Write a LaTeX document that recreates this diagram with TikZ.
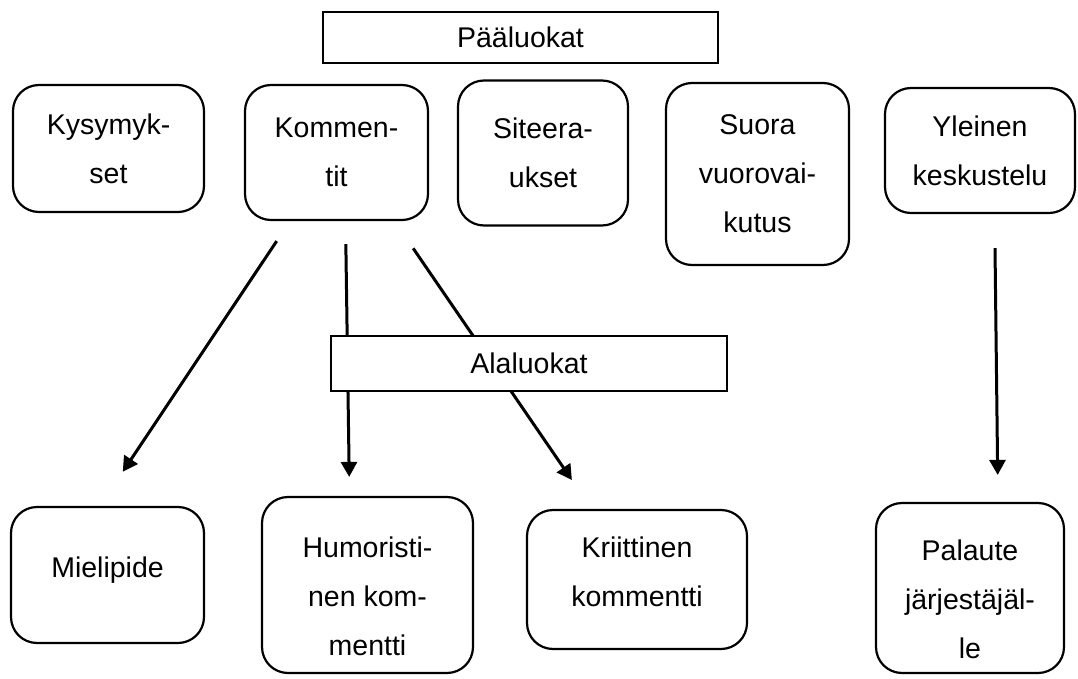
\documentclass[tikz,border=0pt]{standalone}
\usepackage{fontspec}
\setmainfont{Liberation Sans}
\usetikzlibrary{arrows.meta}

\begin{document}
\begin{tikzpicture}[x=1pt,y=-1pt,font=\fontsize{28.5}{49}\selectfont,
  catbox/.style={draw,line width=2.2pt,rounded corners=26pt,align=center,inner sep=0pt},
  headbox/.style={draw,line width=2.2pt,fill=white,inner sep=0pt},
  hightext/.style={text height=10pt},
  lowtext/.style={text height=142pt},
  midtext/.style={text height=55pt},
  catarrow/.style={-{Triangle[length=15pt,width=16pt]},line width=3pt}]
\useasboundingbox (0,0) rectangle (1078,679);
\node[headbox,minimum width=395pt,minimum height=51pt] (paa) at (520.5,37.5) {Pääluokat};
% main categories
\foreach \n/\x/\y/\w/\h/\t in {kysym/108.5/148.5/191/127/{Kysymyk-\\set},
    komm/336.5/152.5/183/135/{Kommen-\\tit},
    sitee/543/153/170/145/{Siteera-\\ukset},
    suora/757.5/174/183/182/{Suora\\vuorovai-\\kutus},
    yleinen/980/150.5/190/125/{Yleinen\\keskustelu}}
  \node[catbox,minimum width=\w pt,minimum height=\h pt] (\n) at (\x,\y) {\t};
% sub categories
\foreach \n/\x/\y/\w/\h/\o/\t in {mieli/107.5/575/193/136/hightext/{Mielipide},
    humor/367.5/585/211/176/lowtext/{Humoristi-\\nen kom-\\mentti},
    palaute/970/588/188/170/lowtext/{Palaute\\järjestäjäl-\\le},
    kriit/637/579.5/220/139/midtext/{Kriittinen\\kommentti}}
  \node[catbox,minimum width=\w pt,minimum height=\h pt,\o] (\n) at (\x,\y) {\t};
\draw[catarrow,shorten <=24pt,shorten >=41pt] ([xshift=-46.5pt]komm.south) -- ([xshift=-7.5pt]mieli.north);
\draw[catarrow,shorten <=23pt,shorten >=19pt] ([xshift=9pt]komm.south) -- ([xshift=-18pt]humor.north);
\draw[catarrow,shorten <=33pt,shorten >=35pt] ([xshift=58pt]komm.south) -- ([xshift=-45.3pt]kriit.north);
\draw[catarrow,shorten <=34pt,shorten >=27pt] ([xshift=14.6pt]yleinen.south) -- ([xshift=28pt]palaute.north);
\node[headbox,minimum width=396pt,minimum height=55pt] (ala) at (529,363.5) {Alaluokat};
\end{tikzpicture}
\end{document}
